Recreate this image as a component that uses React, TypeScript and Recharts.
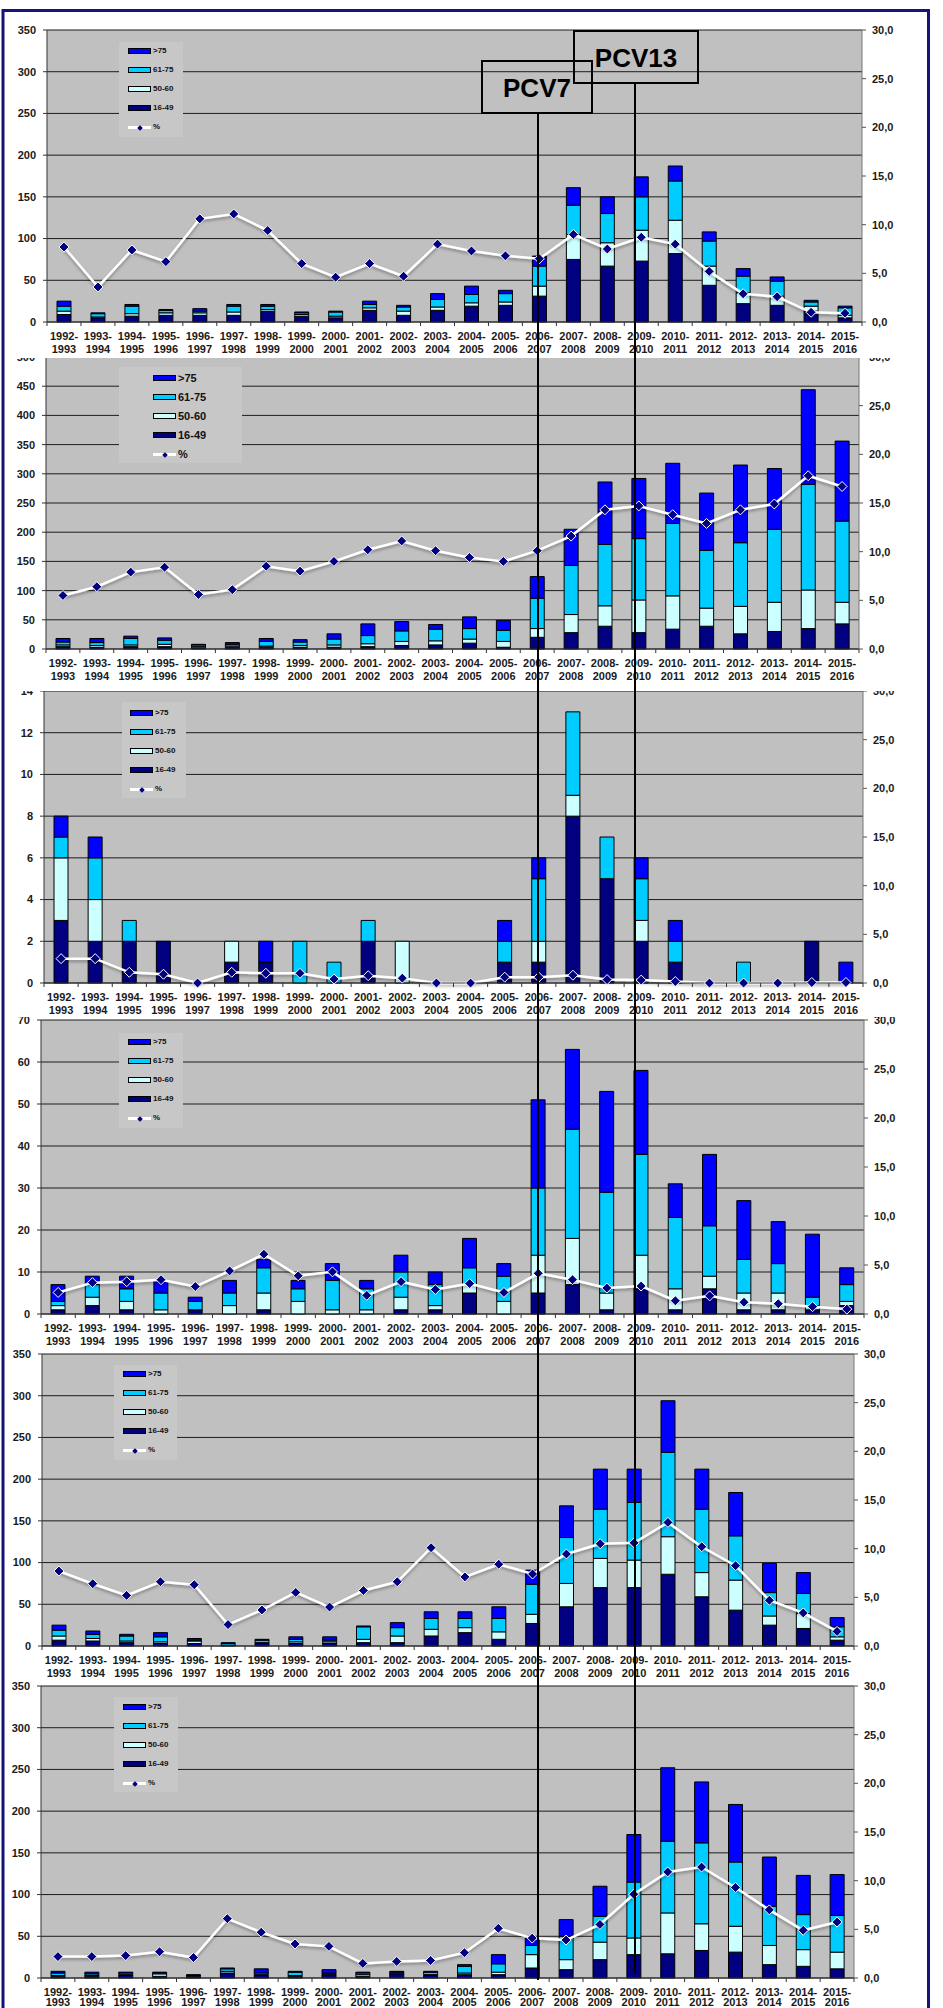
import React from "react";
import {
  Bar,
  Line,
  XAxis,
  YAxis,
  Legend,
  CartesianGrid,
  ComposedChart,
} from "recharts";

const seasons = [
  "1992-1993", "1993-1994", "1994-1995", "1995-1996", "1996-1997", "1997-1998",
  "1998-1999", "1999-2000", "2000-2001", "2001-2002", "2002-2003", "2003-2004",
  "2004-2005", "2005-2006", "2006-2007", "2007-2008", "2008-2009", "2009-2010",
  "2010-2011", "2011-2012", "2012-2013", "2013-2014", "2014-2015", "2015-2016",
];

const pctTicks = [0, 5, 10, 15, 20, 25, 30];

// panel 1
const p1Age16to49 = [9, 5, 7, 8, 8, 8, 13, 7, 5, 14, 8, 14, 19, 20, 31, 75, 67, 73, 82, 44, 22, 20, 13, 5];
const p1Age50to60 = [4, 1, 3, 3, 3, 4, 2, 2, 2, 3, 5, 4, 4, 4, 12, 30, 28, 37, 40, 23, 13, 11, 6, 3];
const p1Age61to75 = [6, 4, 9, 3, 2, 7, 4, 2, 5, 4, 5, 9, 10, 10, 24, 35, 35, 40, 47, 30, 20, 18, 5, 9];
const p1AgeOver75 = [6, 1, 2, 1, 3, 2, 2, 1, 1, 4, 2, 7, 10, 4, 12, 21, 20, 24, 18, 11, 9, 5, 2, 2];
const p1Percent = [7.7, 3.6, 7.4, 6.2, 10.6, 11.1, 9.4, 6.0, 4.6, 6.0, 4.7, 8.0, 7.3, 6.8, 6.5, 9.0, 7.5, 8.7, 8.0, 5.2, 2.9, 2.6, 1.0, 0.9];
const p1Ticks = [0, 50, 100, 150, 200, 250, 300, 350];

// panel 2
const p2Age16to49 = [4, 3, 4, 4, 2, 3, 3, 3, 3, 4, 6, 7, 10, 3, 20, 28, 39, 28, 34, 39, 26, 30, 35, 43];
const p2Age50to60 = [3, 3, 3, 4, 2, 2, 2, 3, 4, 5, 7, 7, 7, 10, 15, 31, 35, 56, 57, 31, 47, 50, 66, 37];
const p2Age61to75 = [5, 5, 11, 7, 3, 3, 8, 6, 10, 14, 18, 20, 18, 19, 52, 84, 105, 105, 124, 99, 109, 125, 181, 139];
const p2AgeOver75 = [6, 7, 4, 4, 1, 3, 5, 4, 9, 20, 16, 8, 20, 17, 37, 62, 107, 103, 103, 98, 133, 104, 162, 137];
const p2Percent = [5.5, 6.4, 7.9, 8.4, 5.6, 6.1, 8.5, 8.0, 9.0, 10.2, 11.1, 10.1, 9.4, 9.0, 10.1, 11.6, 14.3, 14.7, 13.8, 12.9, 14.3, 14.9, 17.8, 16.7];
const p2Ticks = [0, 50, 100, 150, 200, 250, 300, 350, 400, 450, 500];

// panel 3
const p3Age16to49 = [3, 2, 2, 2, 0, 1, 1, 0, 0, 2, 0, 0, 0, 1, 1, 8, 5, 2, 1, 0, 0, 0, 2, 0];
const p3Age50to60 = [3, 2, 0, 0, 0, 1, 0, 0, 0, 0, 2, 0, 0, 0, 1, 1, 0, 1, 0, 0, 0, 0, 0, 0];
const p3Age61to75 = [1, 2, 1, 0, 0, 0, 0, 2, 1, 1, 0, 0, 0, 1, 3, 4, 2, 2, 1, 0, 1, 0, 0, 0];
const p3AgeOver75 = [1, 1, 0, 0, 0, 0, 1, 0, 0, 0, 0, 0, 0, 1, 1, 0, 0, 1, 1, 0, 0, 0, 0, 1];
const p3Percent = [2.5, 2.5, 1.1, 0.9, 0, 1.1, 1.0, 1.0, 0.4, 0.75, 0.5, 0, 0, 0.6, 0.6, 0.8, 0.35, 0.3, 0.15, 0, 0, 0, 0.05, 0.05];
const p3Ticks = [0, 2, 4, 6, 8, 10, 12, 14];

// panel 4
const p4Age16to49 = [1, 2, 1, 0, 1, 0, 1, 0, 0, 0, 1, 1, 5, 0, 5, 7, 1, 6, 1, 6, 1, 1, 1, 2];
const p4Age50to60 = [1, 2, 2, 1, 0, 2, 4, 3, 1, 1, 3, 1, 2, 3, 9, 11, 4, 8, 5, 3, 4, 4, 1, 1];
const p4Age61to75 = [1, 3, 3, 4, 2, 3, 6, 3, 7, 5, 6, 5, 4, 6, 16, 26, 24, 24, 17, 12, 8, 7, 2, 4];
const p4AgeOver75 = [4, 2, 3, 3, 1, 3, 2, 2, 4, 2, 4, 3, 7, 3, 21, 19, 24, 20, 8, 17, 14, 10, 15, 4];
const p4Percent = [2.2, 3.2, 3.3, 3.5, 2.8, 4.4, 6.1, 3.9, 4.3, 1.9, 3.3, 2.5, 3.1, 2.2, 4.15, 3.5, 2.65, 2.85, 1.35, 1.85, 1.2, 1.05, 0.75, 0.5];
const p4Ticks = [0, 10, 20, 30, 40, 50, 60, 70];

// panel 5
const p5Age16to49 = [7, 6, 4, 3, 3, 1, 3, 3, 3, 4, 4, 12, 16, 8, 27, 47, 70, 70, 86, 59, 43, 25, 21, 7];
const p5Age50to60 = [5, 3, 2, 2, 3, 0, 1, 2, 2, 4, 8, 8, 6, 9, 11, 28, 35, 33, 45, 29, 36, 11, 18, 4];
const p5Age61to75 = [7, 5, 6, 6, 1, 2, 3, 3, 2, 15, 10, 13, 11, 16, 36, 55, 59, 69, 101, 76, 53, 28, 24, 12];
const p5AgeOver75 = [6, 4, 2, 5, 2, 1, 1, 3, 4, 1, 6, 8, 8, 14, 17, 38, 48, 40, 62, 48, 52, 35, 25, 11];
const p5Percent = [7.7, 6.4, 5.2, 6.6, 6.3, 2.2, 3.7, 5.5, 4.0, 5.7, 6.6, 10.1, 7.1, 8.4, 7.4, 9.45, 10.5, 10.6, 12.7, 10.2, 8.25, 4.7, 3.4, 1.5];
const p5Ticks = [0, 50, 100, 150, 200, 250, 300, 350];

// panel 6
const p6Age16to49 = [2, 2, 3, 2, 2, 6, 3, 2, 4, 2, 5, 3, 4, 4, 12, 10, 22, 28, 29, 33, 31, 16, 14, 11];
const p6Age50to60 = [1, 1, 1, 3, 1, 2, 1, 1, 1, 2, 1, 1, 2, 3, 16, 12, 21, 20, 49, 32, 31, 23, 20, 20];
const p6Age61to75 = [3, 2, 2, 1, 0, 3, 2, 4, 1, 2, 1, 3, 8, 10, 11, 28, 31, 67, 86, 97, 77, 47, 42, 44];
const p6AgeOver75 = [2, 2, 1, 1, 1, 1, 5, 1, 4, 1, 1, 1, 2, 11, 9, 20, 36, 57, 88, 73, 69, 59, 47, 49];
const p6Percent = [2.2, 2.2, 2.3, 2.7, 2.1, 6.1, 4.7, 3.5, 3.25, 1.5, 1.7, 1.8, 2.6, 5.1, 4.1, 3.9, 5.5, 8.6, 10.9, 11.4, 9.3, 7.0, 4.9, 5.75];
const p6Ticks = [0, 50, 100, 150, 200, 250, 300, 350];

const FONT = "'Liberation Sans', Arial, sans-serif";
const NAVY = "#000080";
const LIGHT = "#ccffff";
const CYAN = "#00ccff";
const BLUE = "#0000ff";

const legendItems = [
  { label: ">75", color: BLUE },
  { label: "61-75", color: CYAN },
  { label: "50-60", color: LIGHT },
  { label: "16-49", color: NAVY },
];

const buildRows = (a: number[], b: number[], c: number[], d: number[], pct: number[]) =>
  seasons.map((season, i) => ({
    season,
    age16to49: a[i],
    age50to60: b[i],
    age61to75: c[i],
    ageOver75: d[i],
    pct: pct[i],
  }));

const panels = [
  {
    rows: buildRows(p1Age16to49, p1Age50to60, p1Age61to75, p1AgeOver75, p1Percent),
    ticks: p1Ticks,
    plotTop: 30, plotBottom: 322, plotLeft: 47, plotRight: 862, clipBottom: 358, line2: 31,
    legend: { x: 119, y: 42, w: 64, h: 95, firstY: 9, swatchX: 9, fontSize: 8 },
  },
  {
    rows: buildRows(p2Age16to49, p2Age50to60, p2Age61to75, p2AgeOver75, p2Percent),
    ticks: p2Ticks,
    plotTop: 357, plotBottom: 649, plotLeft: 46, plotRight: 859, clipBottom: 691, line2: 31,
    legend: { x: 119, y: 367, w: 123, h: 96, firstY: 11, swatchX: 34, fontSize: 11 },
  },
  {
    rows: buildRows(p3Age16to49, p3Age50to60, p3Age61to75, p3AgeOver75, p3Percent),
    ticks: p3Ticks,
    plotTop: 691, plotBottom: 983, plotLeft: 44, plotRight: 863, clipBottom: 1017, line2: 31,
    legend: { x: 122, y: 702, w: 64, h: 96, firstY: 11, swatchX: 8, fontSize: 8 },
  },
  {
    rows: buildRows(p4Age16to49, p4Age50to60, p4Age61to75, p4AgeOver75, p4Percent),
    ticks: p4Ticks,
    plotTop: 1020, plotBottom: 1314, plotLeft: 41, plotRight: 864, clipBottom: 1348, line2: 31,
    legend: { x: 119, y: 1033, w: 64, h: 95, firstY: 9, swatchX: 9, fontSize: 8 },
  },
  {
    rows: buildRows(p5Age16to49, p5Age50to60, p5Age61to75, p5AgeOver75, p5Percent),
    ticks: p5Ticks,
    plotTop: 1354, plotBottom: 1646, plotLeft: 42, plotRight: 854, clipBottom: 1681, line2: 31,
    legend: { x: 114, y: 1365, w: 63, h: 95, firstY: 9, swatchX: 9, fontSize: 8 },
  },
  {
    rows: buildRows(p6Age16to49, p6Age50to60, p6Age61to75, p6AgeOver75, p6Percent),
    ticks: p6Ticks,
    plotTop: 1686, plotBottom: 1978, plotLeft: 41, plotRight: 854, clipBottom: 2008, line2: 28,
    legend: { x: 114, y: 1697, w: 64, h: 95, firstY: 10, swatchX: 9, fontSize: 8 },
  },
];

const MARGIN_TOP = 12;
const X_AXIS_H = 40;

const Diamond = (props: any) => {
  const { cx, cy } = props;
  if (cx == null || cy == null) return null;
  const r = 5;
  return (
    <path
      d={`M${cx},${cy - r}L${cx + r},${cy}L${cx},${cy + r}L${cx - r},${cy}Z`}
      fill={NAVY}
      stroke="#ffffff"
      strokeWidth={1}
    />
  );
};

const makeSeasonTick = (axisY: number, bw: number, line2: number) => (props: any) => {
  const { x, payload } = props;
  const [from, to] = String(payload.value).split("-");
  const isLast = payload.value === seasons[seasons.length - 1];
  return (
    <g>
      <line x1={x - bw / 2} x2={x - bw / 2} y1={axisY} y2={axisY + 4} stroke="#333" />
      {isLast && <line x1={x + bw / 2} x2={x + bw / 2} y1={axisY} y2={axisY + 4} stroke="#333" />}
      <text x={x} y={axisY + 18} textAnchor="middle" fontSize={11} fontWeight="bold" fontFamily={FONT} fill="#1a1a1a">
        {from}-
      </text>
      <text x={x} y={axisY + line2} textAnchor="middle" fontSize={11} fontWeight="bold" fontFamily={FONT} fill="#1a1a1a">
        {to}
      </text>
    </g>
  );
};

const makeLegend = (lg: any) => () => (
  <div
    style={{
      position: "relative",
      width: lg.w,
      height: lg.h,
      background: "#c7c7c7",
      fontFamily: FONT,
      fontWeight: "bold",
      fontSize: lg.fontSize,
      color: "#111",
      lineHeight: 1,
    }}
  >
    {legendItems.map((item, i) => (
      <div key={item.label} style={{ position: "absolute", left: lg.swatchX, top: lg.firstY + i * 19 - 3 }}>
        <div
          style={{
            position: "absolute",
            width: 23,
            height: 6,
            boxSizing: "border-box",
            border: "1px solid #000",
            background: item.color,
          }}
        />
        <span style={{ position: "absolute", left: 25, top: 3 - lg.fontSize / 2, whiteSpace: "nowrap" }}>
          {item.label}
        </span>
      </div>
    ))}
    <div style={{ position: "absolute", left: lg.swatchX, top: lg.firstY + 4 * 19 - 1 }}>
      <div style={{ position: "absolute", width: 23, height: 3, background: "#fff" }} />
      <div style={{ position: "absolute", left: 10, top: -0.5, width: 4, height: 4, background: NAVY, transform: "rotate(45deg)" }} />
      <span style={{ position: "absolute", left: 25, top: 1 - lg.fontSize / 2 }}>%</span>
    </div>
  </div>
);

const Panel = ({ cfg, z }: { cfg: any; z: number }) => {
  const chartTop = cfg.plotTop - MARGIN_TOP;
  const plotH = cfg.plotBottom - cfg.plotTop;
  const chartH = plotH + MARGIN_TOP + X_AXIS_H;
  const bw = (cfg.plotRight - cfg.plotLeft) / seasons.length;
  const axisY = MARGIN_TOP + plotH;
  const tickStyle = { fontSize: 11, fontWeight: "bold", fontFamily: FONT, fill: "#1a1a1a" };
  const leftMax = cfg.ticks[cfg.ticks.length - 1];

  return (
    <div
      style={{
        position: "absolute",
        left: 0,
        top: chartTop,
        width: 943,
        height: cfg.clipBottom - chartTop,
        overflow: "hidden",
        background: "#fff",
        zIndex: z,
      }}
    >
      <ComposedChart
        width={943}
        height={chartH}
        data={cfg.rows}
        margin={{ top: MARGIN_TOP, right: 0, bottom: 0, left: 0 }}
        barSize={14}
      >
        <CartesianGrid vertical={false} stroke="#1c1c1c" fill="#c0c0c0" fillOpacity={1} />
        <XAxis
          dataKey="season"
          height={X_AXIS_H}
          interval={0}
          tickLine={false}
          axisLine={{ stroke: "#333" }}
          tick={makeSeasonTick(axisY, bw, cfg.line2)}
        />
        <YAxis
          width={cfg.plotLeft}
          domain={[0, leftMax]}
          ticks={cfg.ticks}
          interval={0}
          tickSize={4}
          tickMargin={7}
          axisLine={{ stroke: "#333" }}
          tickLine={{ stroke: "#333" }}
          tick={tickStyle}
        />
        <YAxis
          yAxisId="right"
          orientation="right"
          width={943 - cfg.plotRight}
          domain={[0, 30]}
          ticks={pctTicks}
          interval={0}
          tickSize={4}
          tickMargin={6}
          axisLine={{ stroke: "#777" }}
          tickLine={{ stroke: "#555" }}
          tick={tickStyle}
          tickFormatter={(v: number) => v.toFixed(1).replace(".", ",")}
        />
        <Legend
          layout="vertical"
          align="center"
          verticalAlign="middle"
          content={makeLegend(cfg.legend)}
          wrapperStyle={{ left: cfg.legend.x, top: cfg.legend.y - chartTop, width: cfg.legend.w, height: cfg.legend.h }}
        />
        <Bar dataKey="age16to49" name="16-49" stackId="a" fill={NAVY} stroke="#000" strokeWidth={1} isAnimationActive={false} />
        <Bar dataKey="age50to60" name="50-60" stackId="a" fill={LIGHT} stroke="#000" strokeWidth={1} isAnimationActive={false} />
        <Bar dataKey="age61to75" name="61-75" stackId="a" fill={CYAN} stroke="#000" strokeWidth={1} isAnimationActive={false} />
        <Bar dataKey="ageOver75" name=">75" stackId="a" fill={BLUE} stroke="#000" strokeWidth={1} isAnimationActive={false} />
        <Line
          yAxisId="right"
          type="linear"
          dataKey="pct"
          name="%"
          stroke="#ffffff"
          strokeWidth={2.5}
          filter="url(#lineShadow)"
          dot={<Diamond />}
          activeDot={false}
          isAnimationActive={false}
        />
      </ComposedChart>
    </div>
  );
};

export default function App() {
  return (
    <div
      style={{
        position: "absolute",
        left: 0,
        top: 0,
        width: 943,
        height: 2008,
        overflow: "hidden",
        background: "#fff",
      }}
    >
      {panels.map((cfg, i) => (
        <Panel key={i} cfg={cfg} z={10 - i} />
      ))}

      {/* vaccine markers and outer frame drawn over all panels */}
      <svg width={943} height={2008} style={{ position: "absolute", left: 0, top: 0, zIndex: 20, pointerEvents: "none" }}>
        <defs>
          <filter id="lineShadow" filterUnits="userSpaceOnUse" x={-50} y={-50} width={1100} height={500}>
            <feDropShadow dx={0} dy={2} stdDeviation={1.5} floodColor="#000" floodOpacity={0.35} />
          </filter>
        </defs>
        <line x1={538} x2={538} y1={113} y2={1980} stroke="#000" strokeWidth={2} />
        <line x1={635} x2={635} y1={83} y2={1973} stroke="#000" strokeWidth={2} />
        <rect x={482} y={61} width={110} height={52} fill="none" stroke="#000" strokeWidth={2} />
        <rect x={574} y={31} width={124} height={52} fill="none" stroke="#000" strokeWidth={2} />
        <text x={537} y={97} textAnchor="middle" fontSize={26} fontWeight="bold" fontFamily={FONT} fill="#000">
          PCV7
        </text>
        <text x={636} y={67} textAnchor="middle" fontSize={26} fontWeight="bold" fontFamily={FONT} fill="#000">
          PCV13
        </text>
        <rect x={3} y={10.5} width={925.5} height={2100} fill="none" stroke="#14147a" strokeWidth={3} />
      </svg>
    </div>
  );
}
